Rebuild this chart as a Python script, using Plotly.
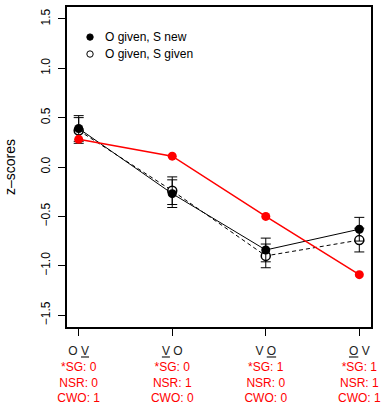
import plotly.graph_objects as go

positions = [1, 2, 3, 4]
tick_top = ["O <u>V</u>", "<u>V</u> O", "V <u>O</u>", "<u>O</u> V"]
sg = ["*SG: 0", "*SG: 0", "*SG: 1", "*SG: 1"]
nsr = ["NSR: 0", "NSR: 1", "NSR: 0", "NSR: 1"]
cwo = ["CWO: 1", "CWO: 0", "CWO: 0", "CWO: 1"]

s_new = [0.39, -0.27, -0.84, -0.63]
s_new_err = [0.13, 0.14, 0.12, 0.12]
s_given = [0.37, -0.24, -0.90, -0.74]
s_given_err = [0.13, 0.14, 0.12, 0.12]
model = [0.28, 0.11, -0.50, -1.09]

legend_names = ["O given, S new", "O given, S given"]
legend_fills = ["black", "white"]

y_ticks = [-1.5, -1.0, -0.5, 0.0, 0.5, 1.0, 1.5]
y_ticktext = ["\u22121.5", "\u22121.0", "\u22120.5", "0.0", "0.5", "1.0", "1.5"]

RED = "#FF0000"
ticktext = [
    f"{t}<br><span style='color:{RED}'>{a}</span><br><span style='color:{RED}'>{b}</span><br><span style='color:{RED}'>{c}</span>"
    for t, a, b, c in zip(tick_top, sg, nsr, cwo)
]

fig = go.Figure()
fig.add_trace(go.Scatter(
    x=positions, y=s_given, mode="lines+markers",
    line=dict(color="black", width=1, dash="4px,3px"),
    marker=dict(symbol="circle", size=9, color="white", line=dict(color="black", width=1.5)),
    error_y=dict(type="data", array=s_given_err, color="black", thickness=1, width=5),
    showlegend=False,
))
fig.add_trace(go.Scatter(
    x=positions, y=s_new, mode="lines+markers",
    line=dict(color="black", width=1),
    marker=dict(symbol="circle", size=9, color="black"),
    error_y=dict(type="data", array=s_new_err, color="black", thickness=1, width=5),
    showlegend=False,
))
fig.add_trace(go.Scatter(
    x=positions, y=model, mode="lines+markers",
    line=dict(color=RED, width=1.5),
    marker=dict(symbol="circle", size=9, color=RED),
    showlegend=False,
))

# legend drawn as annotations + small circles (paper coordinates)
leg_y = [0.906, 0.853]
for name, fill, yy in zip(legend_names, legend_fills, leg_y):
    fig.add_annotation(x=0.118, y=yy, xref="paper", yref="paper", text=name,
                       showarrow=False, xanchor="left", yanchor="middle",
                       font=dict(size=12, color="black"))
    fig.add_shape(type="circle", xref="paper", yref="paper",
                  xsizemode="pixel", ysizemode="pixel",
                  xanchor=0.0757, yanchor=yy, x0=-3.2, x1=3.2, y0=-3.2, y1=3.2,
                  fillcolor=fill, line=dict(color="black", width=1))

fig.update_layout(
    width=384, height=406,
    margin=dict(l=67, r=13, t=7, b=79, autoexpand=False),
    paper_bgcolor="white", plot_bgcolor="white",
    font=dict(family="Liberation Sans, Arial, sans-serif", size=12, color="black"),
    showlegend=False,
)
fig.update_xaxes(
    range=[0.875, 4.125], tickmode="array", tickvals=positions, ticktext=ticktext,
    ticks="outside", ticklen=7, tickwidth=1, tickcolor="black",
    showline=True, mirror=True, linecolor="black", linewidth=2,
    showgrid=False, zeroline=False, tickangle=0, ticklabelstandoff=5,
    tickfont=dict(color="#222222"), automargin=False,
)
fig.update_yaxes(
    range=[-1.62, 1.62], tickmode="array", tickvals=y_ticks, ticktext=y_ticktext,
    ticks="outside", ticklen=7, tickwidth=1, tickcolor="black",
    showline=True, mirror=True, linecolor="black", linewidth=2,
    showgrid=False, zeroline=False, tickangle=-90, ticklabelstandoff=3,
    title=dict(text="z\u2013scores", standoff=20), automargin=False,
)

fig.write_html("out.html")
